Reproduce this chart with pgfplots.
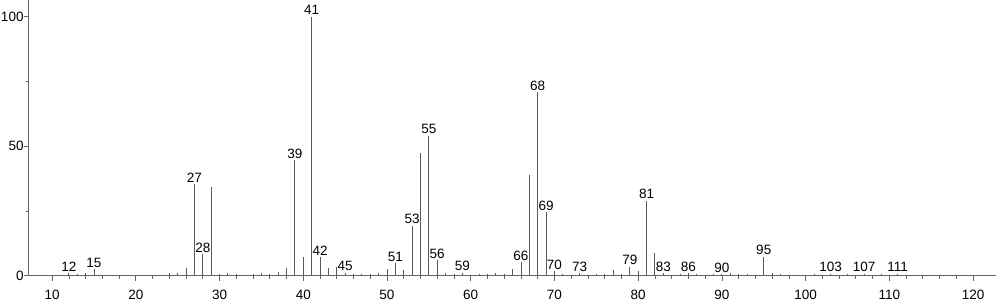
\documentclass[border=0pt]{standalone}
\usepackage{fontspec}
\setmainfont{Liberation Sans}
\usepackage{pgfplots}
\pgfplotsset{compat=1.18}
\usepackage{pgfplotstable}
\pgfplotstableread{
mz int
12 1.0
13 0.5
14 0.9
15 2.4
16 0.4
17 0.2
18 0.3
19 0.2
24 1.0
25 1.1
26 3.0
27 35.4
28 8.3
29 34.1
30 0.8
31 1.0
32 0.8
33 0.4
34 0.6
35 1.0
36 0.8
37 1.5
38 3.1
39 44.5
40 7.2
41 100
42 7.2
43 3.1
44 3.5
45 1.2
46 0.5
47 0.8
48 0.5
49 1.0
50 2.7
51 4.8
52 2.3
53 19.3
54 47.4
55 54.1
56 6.0
57 0.9
58 0.6
59 1.1
60 0.3
61 0.7
62 0.8
63 1.0
64 0.6
65 2.6
66 5.2
67 39.0
68 70.9
69 24.5
70 1.7
71 0.6
72 0.3
73 0.9
74 0.3
75 0.8
76 0.5
77 2.3
78 0.8
79 3.4
80 1.7
81 29.0
82 8.9
83 0.9
84 0.4
85 0.7
86 0.9
87 0.7
88 0.3
89 0.6
90 0.5
91 1.0
92 0.6
93 0.8
94 0.4
95 7.3
96 1.0
97 0.8
98 0.3
101 0.5
103 0.8
105 0.6
107 0.8
109 0.6
111 0.8
}\spec
\pgfplotstableread{
mz int
12 1.0
15 2.4
27 35.4
28 8.3
39 44.5
41 100
42 7.2
45 1.2
51 4.8
53 19.3
55 54.1
56 6.0
59 1.1
66 5.2
68 70.9
69 24.5
70 1.7
73 0.9
79 3.4
81 29.0
83 0.9
86 0.9
90 0.5
95 7.3
103 0.8
107 0.8
111 0.8
}\labels
\begin{document}
\begin{tikzpicture}
\begin{axis}[
  scale only axis, width=966pt, height=275pt,
  xmin=7.21, xmax=122.7, ymin=0, ymax=106.3,
  axis lines*=left,
  axis line style={black!60, line width=0.7pt},
  xtick={10,20,...,120}, minor x tick num=4,
  ytick={0,50,100}, minor y tick num=1,
  tick align=outside, major tick length=5pt, minor tick length=3pt,
  tick style={black!60, line width=0.7pt},
  ticklabel style={font=\fontsize{13.5}{15}\selectfont, text=black},
  xticklabel style={yshift=-8pt, inner sep=1pt},
  yticklabel style={xshift=1pt, inner sep=1pt},
  /pgf/number format/assume math mode=true,
  clip=false,
]
\addplot[ycomb, mark=none, black!65, line width=0.9pt] table[x=mz,y=int]{\spec};
\addplot[draw=none, mark=none, point meta=x, nodes near coords,
  nodes near coords style={font=\fontsize{13.5}{15}\selectfont, anchor=south, inner sep=1.5pt, text=black}]
  table[x=mz,y=int]{\labels};
\end{axis}
\end{tikzpicture}
\end{document}
